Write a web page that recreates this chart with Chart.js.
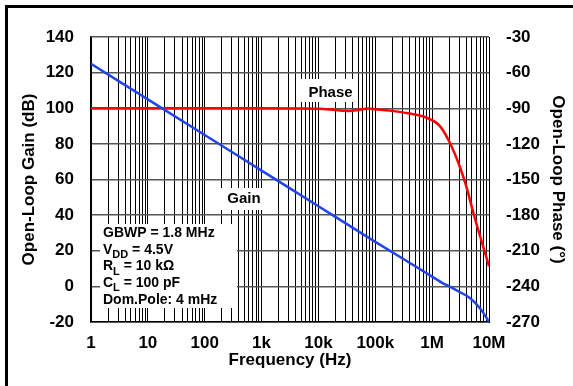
<!DOCTYPE html>
<html>
<head>
<meta charset="utf-8">
<script src="https://cdn.jsdelivr.net/npm/chart.js@4.4.1/dist/chart.umd.min.js"></script>
<style>
  html, body { margin: 0; padding: 0; background: #fff; }
  canvas { display: block; }
</style>
</head>
<body>
<canvas id="chart" width="573" height="386"></canvas>
<script>
// tick labels
const freqLabels = ['1', '10', '100', '1k', '10k', '100k', '1M', '10M'];

// open-loop gain (dB)
const gainFreq = [1, 10, 100, 1e3, 1e4, 1e5, 1e6, 1.5e6, 2e6, 3e6, 4.6e6, 6e6, 8e6, 1e7];
const gainDb = [125, 105, 85, 65, 45, 25, 5.5, 2, 0, -3, -6.5, -10, -15, -20];

// open-loop phase (deg)
const phaseFreq = [1, 1e3, 5e3, 1e4, 2e4, 3.5e4, 5e4, 7.5e4, 1e5, 1.8e5, 4e5, 8e5, 1.37e6, 2e6, 3e6, 4e6, 5.3e6, 7e6, 1e7];
const phaseDeg = [-90, -90, -90.2, -90.5, -91.5, -92.3, -91.5, -90.2, -90.8, -92, -94.5, -98, -105, -118, -138, -156, -178, -198, -223];

const infoLines = [
    ['GBWP = 1.8 MHz'],
    ['V', 'DD', ' = 4.5V'],
    ['R', 'L', ' = 10 kΩ'],
    ['C', 'L', ' = 100 pF'],
    ['Dom.Pole: 4 mHz']
];

const FONT = "'Liberation Sans', Arial, sans-serif";

const decorPlugin = {
    id: 'decor',
    beforeDraw(chart) {
        const ctx = chart.ctx;
        ctx.save();
        ctx.fillStyle = '#000';
        ctx.fillRect(5, 5, 573, 3);
        ctx.fillRect(5, 5, 3, 386);
        ctx.restore();
    },
    beforeDatasetsDraw(chart) {
        const ctx = chart.ctx;
        ctx.save();
        // white boxes hiding the grid behind the labels
        ctx.fillStyle = '#fff';
        ctx.fillRect(100, 224, 137, 84);
        ctx.fillRect(219, 188, 46, 22);
        ctx.fillRect(301, 79, 57, 23);

        ctx.fillStyle = '#000';
        ctx.textBaseline = 'middle';
        ctx.font = `bold 15px ${FONT}`;
        ctx.textAlign = 'center';
        ctx.fillText('Gain', 244, 199);
        ctx.fillText('Phase', 330.5, 92.5);

        ctx.textAlign = 'left';
        infoLines.forEach((parts, i) => {
            const y = 233 + i * 16.8;
            let x = 103;
            ctx.font = `bold 14px ${FONT}`;
            ctx.fillText(parts[0], x, y);
            x += ctx.measureText(parts[0]).width;
            if (parts.length > 1) {
                ctx.font = `bold 11px ${FONT}`;
                ctx.fillText(parts[1], x, y + 5);
                x += ctx.measureText(parts[1]).width;
                ctx.font = `bold 14px ${FONT}`;
                ctx.fillText(parts[2], x, y);
            }
        });
        ctx.restore();
    }
};

const tickFont = { family: FONT, size: 17, weight: 'bold' };
const titleFont = { family: FONT, size: 17, weight: 'bold', lineHeight: 1 };

new Chart(document.getElementById('chart'), {
    type: 'line',
    data: {
        datasets: [
            {
                label: 'Gain',
                data: gainFreq.map((f, i) => ({ x: f, y: gainDb[i] })),
                borderColor: '#2244ee',
                borderWidth: 2.5,
                pointRadius: 0,
                cubicInterpolationMode: 'monotone',
                yAxisID: 'y'
            },
            {
                label: 'Phase',
                data: phaseFreq.map((f, i) => ({ x: f, y: phaseDeg[i] })),
                borderColor: '#ff0000',
                borderWidth: 2.5,
                pointRadius: 0,
                cubicInterpolationMode: 'monotone',
                yAxisID: 'y2'
            }
        ]
    },
    options: {
        responsive: false,
        animation: false,
        devicePixelRatio: 1,
        layout: { padding: { top: 37, left: 0, right: 0, bottom: 0 } },
        plugins: { legend: { display: false }, tooltip: { enabled: false } },
        scales: {
            x: {
                type: 'logarithmic',
                min: 1,
                max: 1e7,
                afterBuildTicks: (scale) => {
                    const t = [];
                    for (let d = 0; d < freqLabels.length - 1; d++) {
                        for (let m = 1; m < 10; m++) t.push({ value: m * Math.pow(10, d) });
                    }
                    t.push({ value: Math.pow(10, freqLabels.length - 1) });
                    scale.ticks = t;
                },
                afterFit: (scale) => { scale.height = 64; },
                ticks: {
                    autoSkip: false,
                    maxRotation: 0,
                    padding: 11,
                    color: '#000',
                    font: tickFont,
                    callback: (value) => {
                        const e = Math.log10(value);
                        if (Math.abs(e - Math.round(e)) < 1e-9) return freqLabels[Math.round(e)];
                        return '';
                    }
                },
                grid: { color: '#000', lineWidth: 1, drawTicks: false },
                border: { color: '#000', width: 1.5 },
                title: {
                    display: true,
                    text: 'Frequency (Hz)',
                    color: '#000',
                    font: titleFont,
                    padding: { top: 0, bottom: 17 }
                }
            },
            y: {
                position: 'left',
                min: -20,
                max: 140,
                afterFit: (scale) => { scale.width = 91; },
                ticks: { stepSize: 20, padding: 17, color: '#000', font: tickFont },
                grid: { color: '#555', lineWidth: 1.5, drawTicks: false },
                border: { color: '#000', width: 1.5 },
                title: {
                    display: true,
                    text: 'Open-Loop Gain (dB)',
                    color: '#000',
                    font: titleFont,
                    padding: { top: 21, bottom: 0 }
                }
            },
            y2: {
                position: 'right',
                min: -270,
                max: -30,
                afterFit: (scale) => { scale.width = 84; },
                ticks: { stepSize: 30, padding: 17, color: '#000', font: tickFont },
                grid: { drawOnChartArea: false, drawTicks: false },
                border: { color: '#000', width: 1 },
                title: {
                    display: true,
                    text: 'Open-Loop Phase (°)',
                    color: '#000',
                    font: titleFont,
                    padding: { top: 7, bottom: 0 }
                }
            }
        }
    },
    plugins: [decorPlugin]
});
</script>
</body>
</html>
